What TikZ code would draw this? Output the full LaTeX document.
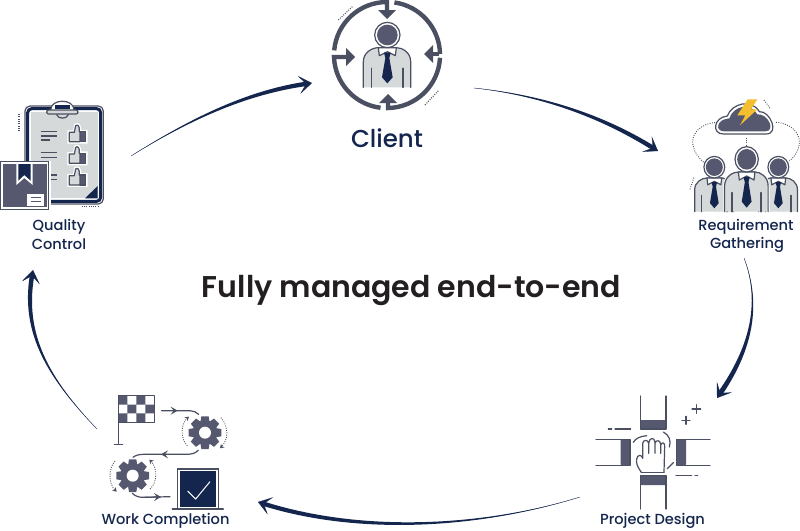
\documentclass[tikz,border=0pt]{standalone}
\usepackage{fontspec}
\setmainfont{Poppins Medium}[BoldFont={Poppins SemiBold}]
\usetikzlibrary{arrows.meta,calc}
\definecolor{slate}{HTML}{56586F}
\definecolor{ink}{HTML}{4A5061}
\definecolor{navy}{HTML}{14264D}
\definecolor{paleg}{HTML}{D6D9D9}
\definecolor{bolt}{HTML}{F5BE2E}
\definecolor{titlec}{HTML}{231F20}
\tikzset{
  zoomed/.style 2 args={shift={(#1pt,-#2pt)},x=.33333pt,y=-.33333pt},
  lab/.style={inner sep=0pt,font=\fontsize{14.6}{16}\selectfont,text=navy,align=center},
  thinl/.style={draw=ink,line width=1.2pt,line cap=round,line join=round},
  midl/.style={draw=ink,line width=1.6pt,line cap=round},
  dots/.style={draw=ink,line width=.9pt,dash pattern=on .9pt off 1.4pt},
  ring/.style={draw=ink,line width=4.4pt},
}
\newcommand\swoosh[6]{%
  \coordinate (sw) at ($(#4)!6pt!(#3)$);
  \fill[navy] (#1) .. controls ($(#2)-0.35*(#5,#6)$) and ($(#3)-0.85*(#5,#6)$) .. ($(sw)-(#5,#6)$)
     -- ($(sw)+(#5,#6)$) .. controls ($(#3)+0.85*(#5,#6)$) and ($(#2)+0.35*(#5,#6)$) .. (#1) -- cycle;
  \draw[navy,line width=.3pt,-{Stealth[length=13pt,width=18pt,inset=7pt]}] (#1) .. controls (#2) and (#3) .. (#4);
}
% person, local origin at the bottom centre of the body (zoom units)
\newcommand\person[3]{%
  \begin{scope}[shift={(#1)},xscale=#2,yscale=#3]
    \path[draw=white,line width=3pt] (-72,0) -- (-72,-77) .. controls (-72,-105) and (-45,-119) .. (-27,-119) -- (27,-119) .. controls (45,-119) and (70,-105) .. (70,-77) -- (70,0);
    \path[fill=paleg] (-72,0) -- (-72,-77) .. controls (-72,-105) and (-45,-119) .. (-27,-119) -- (27,-119) .. controls (45,-119) and (70,-105) .. (70,-77) -- (70,0) -- cycle;
    \draw[thinl] (-72,0) -- (-72,-77) .. controls (-72,-105) and (-45,-119) .. (-27,-119) -- (27,-119) .. controls (45,-119) and (70,-105) .. (70,-77) -- (70,0);
    \draw[thinl,fill=white] (-27,-119) -- (-24,-95) -- (0,-107) -- (24,-95) -- (27,-119) -- cycle;
    \draw[midl] (-47,-57) -- (-47,0) (47,-57) -- (47,0);
    \fill[navy] (-10,-104) -- (10,-104) -- (6,-88) -- (16,-30) -- (0,-12) -- (-16,-30) -- (-6,-88) -- cycle;
    \draw[thinl,fill=white] (0,-157) circle[radius=38];
    \fill[slate] (0,-157) circle[radius=31];
  \end{scope}
}
\newcommand\gear[1]{%
  \begin{scope}[shift={(#1)}]
    \fill[slate] (0,0) circle[radius=37];
    \foreach \a in {0,45,...,315}{\fill[slate,rotate=\a] (-11,-49) -- (11,-49) -- (14,-30) -- (-14,-30) -- cycle;}
    \fill[white] (0,0) circle[radius=18];
  \end{scope}
}
\newcommand\thumb[1]{%
  \begin{scope}[shift={(#1)}]
    \draw[white,line width=2.5pt,fill=white] (-26,-10) -- (-10,-10) -- (-6,-30) .. controls (0,-36) and (10,-30) .. (8,-12) -- (27,-12) -- (27,22) -- (-26,22) -- cycle;
    \fill[slate] (8,-12) rectangle (27,22);
    \draw[thinl,fill=paleg] (-24,-8) -- (-9,-8) -- (-5,-28) .. controls (0,-33) and (8,-28) .. (6,-10) -- (8,-10) -- (8,20) -- (-24,20) -- cycle;
    \draw[thinl] (8,-10) -- (25,-10) -- (25,20) -- (8,20);
  \end{scope}
}
\begin{document}
\begin{tikzpicture}[x=1pt,y=-1pt]
\useasboundingbox (0,0) rectangle (800,530);
\fill[white] (0,0) rectangle (800,530);

% ---------- Client icon
\begin{scope}[shift={(387pt,-55pt)}]
  \draw[ring] (0,-43) -- (0,-53) arc[start angle=-90,end angle=-175,radius=53];
  \draw[ring] (-39,2) -- (-53,2) arc[start angle=178,end angle=97,radius=53];
  \draw[ring] (1,47) -- (1,53) arc[start angle=89,end angle=3,radius=53];
  \draw[ring] (45,-1) -- (52,-1);
  \draw[ring] (53,-1) arc[start angle=-1,end angle=-82,radius=53];
  \fill[ink] (-9,-45) -- (9,-45) -- (0,-36) -- cycle;
  \fill[ink] (-41,-7) -- (-32,2) -- (-41,11) -- cycle;
  \fill[ink] (-8,48) -- (1,39) -- (10,48) -- cycle;
  \fill[ink] (46,-10) -- (37,-1) -- (46,8) -- cycle;
\end{scope}
\begin{scope}[zoomed={320}{0}]
  \person{202,262}{1}{1}
  \draw[dots,line width=1.1pt] (55,60) -- (97,20);
  \draw[dots,line width=1.1pt] (315,315) -- (355,272);
\end{scope}
\node[lab,font=\fontsize{24.5}{28}\selectfont] (client) at (387,138) {Client};

% ---------- Requirement Gathering icon
\begin{scope}[zoomed={680}{90}]
  \draw[dots] (112,97) .. controls (60,100) and (38,130) .. (38,155) .. controls (38,180) and (55,205) .. (72,217);
  \draw[dots] (288,97) .. controls (335,100) and (358,130) .. (358,155) .. controls (358,180) and (345,200) .. (328,213);
  \draw[dots] (200,143) -- (200,170);
  \draw[dots] (252,30) -- (270,55);
  \draw[dots] (30,298) -- (42,262);
  \person{103,365}{.82}{.85}
  \person{295,365}{.82}{.85}
  \person{200,365}{.92}{1}
  \draw[thinl,fill=white] (130,132) .. controls (95,132) and (100,82) .. (142,78) .. controls (155,40) and (215,25) .. (238,65) .. controls (270,62) and (300,132) .. (258,132) -- cycle;
  \fill[slate] (132,124) .. controls (105,124) and (108,88) .. (148,85) .. controls (160,48) and (212,35) .. (232,73) .. controls (265,70) and (288,124) .. (256,124) -- cycle;
  \fill[bolt] (203,28) -- (232,28) -- (213,58) -- (232,58) -- (180,106) -- (196,76) -- (172,76) -- cycle;
\end{scope}
\node[lab] (req1) at (746,226.5) {Requirement};
\node[lab] (req2) at (747,244.5) {Gathering};

% ---------- Project Design icon
\begin{scope}[zoomed={580}{385}]
  \fill[slate,rounded corners=1pt] (181,105) rectangle (258,132);
  \fill[slate,rounded corners=1pt] (181,272) rectangle (258,300);
  \fill[slate,rounded corners=1pt] (122,163) rectangle (150,241);
  \fill[slate,rounded corners=1pt] (290,163) rectangle (318,241);
  \draw[thinl] (181,33) -- (181,132) -- (258,132) -- (258,33);
  \draw[thinl] (181,372) -- (181,272) -- (258,272) -- (258,372);
  \draw[thinl] (48,163) -- (150,163) -- (150,241) -- (48,241);
  \draw[thinl] (390,163) -- (290,163) -- (290,241) -- (390,241);
  \draw[thinl] (184,262) .. controls (172,245) and (168,235) .. (170,222) .. controls (172,208) and (186,208) .. (188,220) -- (188,175) .. controls (190,163) and (204,163) .. (206,175) -- (206,205)
     (206,175) .. controls (208,156) and (224,156) .. (225,172) -- (225,205)
     (225,175) .. controls (228,163) and (241,165) .. (242,178) -- (242,205)
     (242,180) .. controls (246,170) and (255,172) .. (254,185) -- (252,262);
  \draw[thinl] (184,262) -- (252,262);
  \draw[thinl] (160,172) .. controls (167,160) and (180,154) .. (200,152);
  \draw[thinl] (250,141) .. controls (268,150) and (274,168) .. (268,186);
  \draw[thinl] (262,251) -- (280,233);
  \draw[thinl] (85,132) -- (95,132) (105,132) -- (152,132);
  \draw[thinl] (288,272) -- (335,272) (345,272) -- (353,272);
  \draw[thinl] (306,106) -- (330,106) (318,94) -- (318,118);
  \draw[thinl] (336,72) -- (362,72) (349,59) -- (349,85);
\end{scope}
\node[lab] (design) at (652.5,521) {Project Design};

% ---------- Work Completion icon
\begin{scope}[zoomed={95}{385}]
  \draw[thinl] (70,32) -- (70,178) (58,178) -- (83,178);
  \fill[slate] (70,32) rectangle (97,59) (124,32) rectangle (151,59)
               (97,59) rectangle (124,85) (151,59) rectangle (178,85)
               (70,85) rectangle (97,112) (124,85) rectangle (151,112);
  \draw[thinl] (70,32) rectangle (178,112);
  \draw[thinl] (200,77) -- (285,77) .. controls (295,77) and (305,82) .. (311,88);
  \draw[thinl,-{Stealth[length=7pt,width=8pt,inset=3pt]}] (200,77) -- (248,77);
  \gear{330,143}
  \gear{113,272}
  \draw[thinl] (310,196) .. controls (300,205) and (290,208) .. (280,208) -- (145,208) .. controls (130,208) and (120,212) .. (114,217);
  \draw[thinl,-{Stealth[length=7pt,width=8pt,inset=3pt]}] (280,208) -- (198,208);
  \draw[thinl] (112,325) .. controls (122,335) and (135,338) .. (150,337) -- (225,335);
  \draw[thinl,-{Stealth[length=7pt,width=8pt,inset=3pt]}] (150,337) -- (198,335.5);
  \draw[dots,-{Stealth[length=4pt,width=5pt]}] (277,183) .. controls (255,160) and (258,115) .. (282,95);
  \draw[dots,-{Stealth[length=4pt,width=5pt]}] (378,98) .. controls (402,125) and (400,165) .. (375,190);
  \draw[dots,-{Stealth[length=4pt,width=5pt]}] (60,228) .. controls (40,250) and (40,295) .. (65,320);
  \draw[dots,-{Stealth[length=4pt,width=5pt]}] (165,312) .. controls (190,290) and (185,245) .. (163,224);
  \fill[navy] (254,258) rectangle (364,366);
  \draw[ink,line width=1.4pt] (248,252) rectangle (370,372);
  \draw[white,line width=1pt] (278,318) -- (302,342) -- (345,290);
  \draw[thinl] (232,372) -- (385,372);
\end{scope}
\node[lab] (work) at (165.5,520.5) {Work Completion};

% ---------- Quality Control icon
\begin{scope}[zoomed={0}{90}]
  \draw[dots,line width=1.1pt] (57,72) -- (57,122);
  \draw[dots,line width=1.1pt] (245,350) -- (297,350);
  \draw[thinl,rounded corners=5pt] (75,48) rectangle (310,342);
  \draw[navy,line width=3pt,rounded corners=4pt] (83,56) rectangle (302,334);
  \fill[paleg] (92,66) rectangle (293,325);
  \fill[navy] (255,325) -- (293,288) -- (293,325) -- cycle;
  \draw[thinl,fill=white] (152,60) .. controls (152,25) and (222,25) .. (222,60);
  \fill[navy] (165,46) rectangle (210,58);
  \draw[thinl,fill=paleg,rounded corners=2pt] (140,60) rectangle (234,72);
  \draw[thinl] (170,74) .. controls (175,88) and (200,88) .. (205,74);
  \draw[midl,line cap=butt] (122,125) -- (172,125) (122,138) -- (172,138) (122,150) -- (150,150)
     (122,188) -- (172,188) (122,202) -- (172,202) (122,215) -- (150,215)
     (122,255) -- (172,255) (122,268) -- (172,268) (122,282) -- (150,282);
  \thumb{232,135}
  \thumb{232,200}
  \thumb{232,265}
  \fill[white] (0,213) rectangle (152,364);
  \draw[ink,line width=1.3pt] (1,215) rectangle (146,358);
  \fill[slate] (8,222) rectangle (140,352);
  \fill[white] (49,222) -- (98,222) -- (98,285) -- (73,264) -- (49,285) -- cycle;
  \fill[navy] (55,222) -- (92,222) -- (92,272) -- (73,255) -- (55,272) -- cycle;
  \fill[white] (82,312) rectangle (132,347);
  \draw[slate,line width=1.2pt] (93,323) -- (122,323) (93,335) -- (122,335);
\end{scope}
\node[lab] (qc1) at (59,226.5) {Quality};
\node[lab] (qc2) at (59,244.5) {Control};

% ---------- Title
\node[inner sep=0pt,font=\fontsize{30}{34}\selectfont\bfseries,text=titlec] (title) at (411.5,290.5) {Fully managed end-to-end};

% ---------- Connectors
\coordinate (qcOut) at (131,156);      \coordinate (clIn) at (312,83);
\coordinate (clOut) at (474,88);       \coordinate (reqIn) at (658,151);
\coordinate (reqOut) at (744,258);     \coordinate (pdIn) at (717,398);
\coordinate (pdOut) at (580,497);      \coordinate (wcIn) at (258,502);
\coordinate (wcOut) at (97,429);       \coordinate (qcIn) at (33,270);
\coordinate (a1) at (195,116); \coordinate (a2) at (250,92);
\coordinate (b1) at (540,95);  \coordinate (b2) at (600,115);
\coordinate (c1) at (762,305); \coordinate (c2) at (750,350);
\coordinate (d1) at (480,528); \coordinate (d2) at (360,534);
\coordinate (e1) at (50,380);  \coordinate (e2) at (22,335);
\swoosh{qcOut}{a1}{a2}{clIn}{.3}{2.2}
\swoosh{clOut}{b1}{b2}{reqIn}{-1.2}{1.9}
\swoosh{reqOut}{c1}{c2}{pdIn}{2}{1.4}
\swoosh{pdOut}{d1}{d2}{wcIn}{-.6}{2.1}
\swoosh{wcOut}{e1}{e2}{qcIn}{2.2}{.4}
\end{tikzpicture}
\end{document}
